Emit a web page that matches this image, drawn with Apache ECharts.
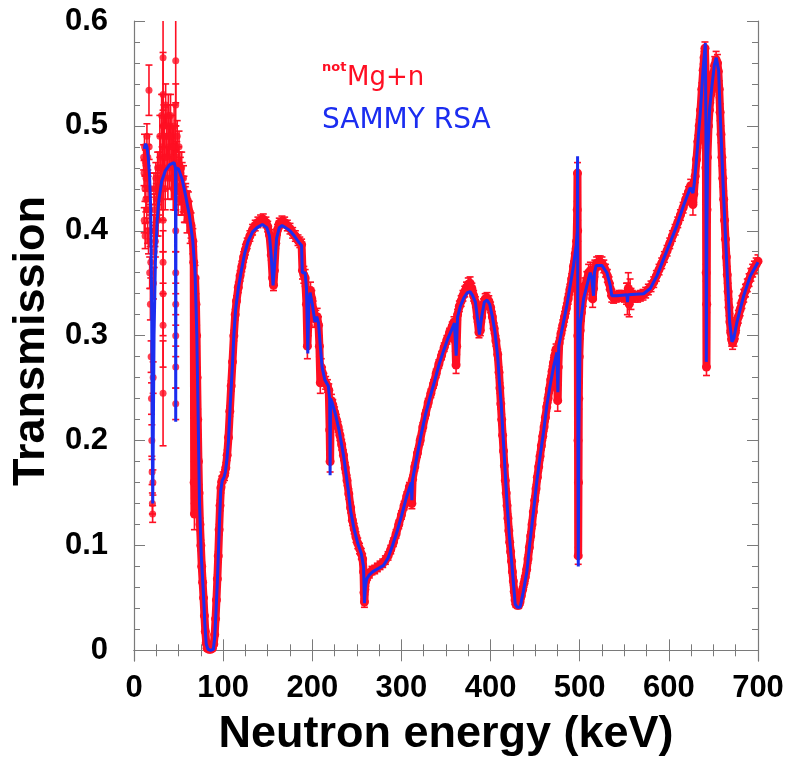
<!DOCTYPE html>
<html>
<head>
<meta charset="utf-8">
<script src="https://cdn.jsdelivr.net/npm/echarts@6/dist/echarts.min.js"></script>
<style>
  html, body { margin: 0; padding: 0; background: #fff; }
  #chart { width: 792px; height: 762px; }
</style>
</head>
<body>
<div id="chart"></div>
<script>
// tick positions
const xMin = 0, xMax = 700;
const yMin = -0.0102, yMax = 0.6;
const yMajor = [0, 0.1, 0.2, 0.3, 0.4, 0.5, 0.6];
const yMinor = [0.02, 0.04, 0.06, 0.08, 0.12, 0.14, 0.16, 0.18, 0.22, 0.24, 0.26, 0.28,
  0.32, 0.34, 0.36, 0.38, 0.42, 0.44, 0.46, 0.48, 0.52, 0.54, 0.56, 0.58];

// noisy low-energy data points [E (keV), T, dT]
const noisyLow = [
  [10.8,0.47,0.012],[11.3,0.455,0.012],[11.8,0.48,0.012],[12.3,0.44,0.012],[12.8,0.465,0.012],
  [13.3,0.43,0.012],[13.8,0.47,0.012],[14.3,0.42,0.012],[14.8,0.45,0.012],[15.3,0.40,0.012],
  [15.8,0.44,0.012],[16.3,0.39,0.012],[16.8,0.534,0.024],[17.2,0.42,0.012],[17.6,0.36,0.015],
  [18,0.40,0.015],[18.4,0.33,0.015],[18.8,0.37,0.015],[19.2,0.28,0.015],[19.6,0.24,0.015],
  [20,0.2,0.015],[20.3,0.17,0.012],[20.6,0.14,0.01],[20.9,0.13,0.008],[21.2,0.16,0.012],
  [21.5,0.26,0.015],[21.8,0.35,0.015],[22.2,0.40,0.015],[22.6,0.38,0.015],[23,0.42,0.015],
  [24,0.39,0.015],[25,0.43,0.015],[26,0.44,0.015],[27,0.41,0.015],[28,0.46,0.015],
  [29,0.49,0.02],[30,0.47,0.02],[31,0.51,0.02],[32,0.48,0.02],
  [32.6,0.565,0.05],[32.6,0.53,0.04],[32.6,0.5,0.03],[32.6,0.44,0.03],[32.6,0.41,0.03],
  [32.6,0.37,0.03],[32.6,0.34,0.04],[32.6,0.31,0.04],[32.6,0.245,0.05],
  [33.5,0.5,0.02],[34.5,0.47,0.02],[35.5,0.52,0.02],[36.5,0.49,0.02],[37.5,0.46,0.02],
  [38.5,0.51,0.02],[39.5,0.48,0.02],[40.5,0.5,0.02],[41.5,0.47,0.02],[42.5,0.49,0.02],
  [43.5,0.45,0.02],[44.5,0.48,0.02],[45.5,0.46,0.02],
  [46.8,0.562,0.04],[46.8,0.52,0.02],[46.8,0.48,0.02],[46.8,0.44,0.02],[46.8,0.40,0.02],
  [46.8,0.36,0.02],[46.8,0.33,0.02],[46.8,0.3,0.02],[46.8,0.27,0.02],[46.8,0.235,0.015],
  [48,0.47,0.015],[49,0.45,0.015],[50,0.465,0.015],[51,0.44,0.015],[52,0.455,0.015],
  [53,0.43,0.015],[54,0.45,0.015],[55,0.43,0.012],[56,0.44,0.012],[57,0.42,0.012],
  [11.5,0.41,0.012],[12.5,0.395,0.012],[13.5,0.45,0.012],[14.5,0.49,0.012],[15.5,0.47,0.012],
  [17,0.48,0.012],[18.2,0.44,0.015],[22.4,0.44,0.015],[23.5,0.40,0.015],[24.5,0.45,0.015],
  [25.5,0.41,0.015],[26.5,0.46,0.015],[27.5,0.43,0.015],[28.5,0.43,0.02],[29.5,0.45,0.02],
  [30.5,0.44,0.02],[31.5,0.46,0.02],[33,0.45,0.02],[34,0.49,0.02],[35,0.44,0.02],
  [36,0.47,0.02],[37,0.5,0.02],[38,0.45,0.02],[39,0.49,0.02],[40,0.46,0.02],[41,0.51,0.02],
  [42,0.45,0.02],[43,0.48,0.02],[44,0.44,0.02],[45,0.5,0.02],[46,0.44,0.02],[47.5,0.45,0.015],
  [48.5,0.49,0.015],[49.5,0.43,0.015],[50.5,0.48,0.015],[51.5,0.46,0.015],[52.5,0.44,0.015],
  [53.5,0.46,0.015],[54.5,0.43,0.015],[55.5,0.45,0.012],[56.5,0.42,0.012],[57.5,0.43,0.012],
  [58.5,0.42,0.012],[59.5,0.41,0.012],[61,0.425,0.012],[63,0.40,0.012]
];

// measured transmission [E (keV), T, dT]
const measured = [
  [58,0.435,0.01],[60,0.428,0.01],[62,0.418,0.01],[64,0.405,0.012],[66,0.39,0.012],[67,0.37,0.015],
  [67.5,0.16,0.02],[67.8,0.13,0.015],[68.5,0.355,0.012],[69.5,0.33,0.01],[70.2,0.30,0.01],
  [70.8,0.26,0.01],[71.5,0.22,0.01],[72.3,0.18,0.008],[73,0.15,0.008],[74,0.12,0.006],
  [75,0.10,0.005],[76,0.08,0.004],[77,0.065,0.004],[78,0.05,0.003],[79,0.033,0.003],
  [80,0.018,0.002],[81,0.007,0.002],[82,0.002,0.001],[84,0.001,0.001],[86,0.001,0.001],
  [88,0.002,0.001],[89.5,0.006,0.002],[90.5,0.015,0.002],[91.5,0.03,0.003],[92.5,0.048,0.003],
  [93.5,0.068,0.004],[94.5,0.09,0.004],[95.5,0.115,0.005],[96.5,0.138,0.005],[97.5,0.155,0.005],
  [98.5,0.161,0.005],[100,0.165,0.005],[101.5,0.167,0.005],[103,0.174,0.005],[104.5,0.186,0.005],
  [106,0.203,0.005],[107.5,0.228,0.005],[109,0.252,0.005],[110.5,0.275,0.005],[112,0.3,0.005],
  [113.5,0.32,0.005],[115,0.333,0.005],[117,0.346,0.005],[119,0.357,0.005],[121,0.366,0.005],
  [123,0.375,0.005],[125,0.382,0.005],[127,0.388,0.005],[130,0.395,0.005],[133,0.401,0.005],
  [136,0.405,0.005],[139,0.408,0.005],[142,0.41,0.005],[145,0.411,0.005],[148,0.408,0.005],
  [150,0.404,0.005],[152,0.396,0.005],[154,0.377,0.005],[155.5,0.355,0.005],[156.5,0.348,0.005],
  [157.5,0.362,0.005],[159,0.388,0.005],[161,0.401,0.005],[163,0.407,0.005],[166,0.409,0.005],
  [169,0.408,0.005],[172,0.405,0.005],[175,0.402,0.005],[178,0.398,0.005],[181,0.395,0.005],
  [184,0.391,0.005],[186,0.389,0.005],[188,0.387,0.005],[189,0.362,0.008],[190.5,0.358,0.008],
  [192,0.355,0.008],[193.5,0.33,0.01],[194.5,0.29,0.012],[195.5,0.31,0.01],[196.5,0.338,0.008],
  [198,0.343,0.008],[199.5,0.335,0.008],[201,0.325,0.008],[202.5,0.316,0.008],[204,0.316,0.008],
  [205.5,0.318,0.008],[207,0.31,0.008],[208,0.29,0.01],[209,0.255,0.01],[210,0.27,0.008],
  [211.5,0.264,0.006],[213,0.258,0.006],[215,0.255,0.006],[217,0.252,0.006],[218.5,0.248,0.006],
  [219.5,0.21,0.01],[220,0.18,0.01],[220.5,0.22,0.01],[221.5,0.238,0.006],[223,0.234,0.005],
  [225,0.227,0.005],[227,0.22,0.005],[229,0.213,0.005],[231,0.205,0.005],[233,0.196,0.005],
  [235,0.186,0.005],[237,0.174,0.005],[239,0.162,0.005],[241,0.149,0.005],[243,0.136,0.005],
  [245,0.124,0.005],[247,0.116,0.005],[249,0.108,0.005],[251,0.102,0.005],[253,0.097,0.005],
  [255,0.092,0.005],[256.5,0.087,0.005],[257.5,0.075,0.006],[258,0.055,0.006],[258.5,0.046,0.005],
  [259,0.058,0.005],[260,0.066,0.005],[262,0.071,0.004],[264,0.073,0.004],[267,0.076,0.004],
  [270,0.077,0.004],[273,0.079,0.004],[276,0.081,0.004],[279,0.083,0.004],[282,0.086,0.004],
  [285,0.09,0.004],[288,0.096,0.004],[291,0.103,0.004],[294,0.111,0.004],[297,0.12,0.004],
  [300,0.129,0.004],[303,0.138,0.004],[306,0.147,0.004],[309,0.156,0.004],[311,0.158,0.004],
  [311.7,0.14,0.005],[312.5,0.163,0.004],[315,0.175,0.004],[318,0.188,0.004],[321,0.2,0.004],
  [324,0.213,0.004],[327,0.225,0.004],[330,0.236,0.004],[333,0.245,0.004],[336,0.254,0.004],
  [339,0.264,0.004],[342,0.273,0.004],[345,0.281,0.004],[348,0.289,0.004],[351,0.296,0.004],
  [354,0.303,0.004],[357,0.309,0.004],[359,0.313,0.005],[360.5,0.295,0.01],[361.3,0.272,0.008],
  [362,0.29,0.008],[363,0.32,0.005],[365,0.328,0.005],[367,0.333,0.005],[369,0.338,0.005],
  [371,0.342,0.005],[373,0.346,0.005],[375,0.349,0.006],[377,0.35,0.006],[379,0.345,0.005],
  [381,0.338,0.005],[383,0.332,0.005],[385,0.318,0.005],[387,0.303,0.005],[388.5,0.305,0.005],
  [390,0.318,0.005],[392,0.33,0.005],[394,0.335,0.005],[396,0.336,0.005],[398,0.333,0.005],
  [400,0.327,0.005],[402,0.318,0.005],[404,0.307,0.005],[406,0.295,0.005],[408,0.282,0.005],
  [409.5,0.265,0.005],[410.5,0.25,0.005],[411.5,0.235,0.005],[412.5,0.22,0.005],[413.5,0.205,0.004],
  [414.5,0.19,0.004],[415.5,0.176,0.004],[416.5,0.162,0.004],[417.5,0.15,0.004],[418.5,0.138,0.004],
  [419.5,0.126,0.004],[420.5,0.114,0.004],[421.5,0.103,0.004],[422.5,0.094,0.004],[423.5,0.085,0.004],
  [424.5,0.075,0.004],[425.5,0.066,0.004],[426.5,0.056,0.004],[427.5,0.048,0.004],[428.5,0.044,0.003],
  [430,0.043,0.003],[431.5,0.043,0.003],[433,0.046,0.003],[434.5,0.052,0.003],[436,0.058,0.003],
  [437.5,0.064,0.004],[439,0.07,0.004],[440.5,0.077,0.004],[442,0.087,0.004],[443.5,0.098,0.004],
  [445,0.109,0.004],[446.5,0.12,0.004],[448,0.132,0.004],[449.5,0.143,0.004],[451,0.154,0.004],
  [452.5,0.165,0.004],[454,0.175,0.004],[455.5,0.185,0.004],[457,0.195,0.004],[458.5,0.204,0.004],
  [460,0.213,0.004],[461.5,0.222,0.004],[463,0.232,0.004],[464.5,0.24,0.004],[466,0.249,0.004],
  [467.5,0.258,0.004],[469,0.266,0.005],[470.5,0.274,0.005],[472,0.281,0.005],[473.5,0.287,0.005],
  [474.5,0.262,0.012],[475.3,0.238,0.01],[476,0.27,0.01],[477,0.293,0.005],[479,0.302,0.005],
  [481,0.31,0.005],[483,0.318,0.005],[485,0.326,0.005],[487,0.335,0.005],[489,0.344,0.005],
  [491,0.354,0.005],[493,0.366,0.005],[495,0.378,0.005],[496.5,0.39,0.006],[497.2,0.42,0.008],
  [497.5,0.455,0.01],[497.7,0.4,0.01],[497.9,0.3,0.01],[498.1,0.2,0.01],[498.3,0.09,0.008],
  [498.6,0.16,0.01],[499,0.24,0.01],[499.5,0.28,0.01],[500.5,0.305,0.008],[502,0.322,0.008],
  [504,0.336,0.008],[506,0.347,0.008],[508,0.353,0.008],[510,0.36,0.008],[512,0.362,0.008],
  [513.5,0.352,0.008],[514.5,0.335,0.008],[515.5,0.345,0.008],[517,0.364,0.008],[519,0.369,0.006],
  [521,0.37,0.006],[523,0.37,0.006],[525,0.369,0.006],[527,0.366,0.006],[529,0.362,0.006],
  [531,0.357,0.006],[533,0.35,0.006],[534.5,0.344,0.006],[536,0.338,0.006],[538,0.336,0.005],
  [541,0.337,0.005],[544,0.338,0.005],[547,0.338,0.005],[550,0.337,0.005],[552.5,0.34,0.01],
  [553.5,0.335,0.015],[554.5,0.345,0.015],[555.5,0.33,0.012],[556.5,0.342,0.012],[557.5,0.335,0.01],
  [559,0.338,0.005],[562,0.337,0.005],[565,0.337,0.005],[568,0.338,0.005],[571,0.339,0.005],
  [574,0.341,0.005],[577,0.344,0.005],[580,0.347,0.005],[583,0.351,0.005],[586,0.357,0.005],
  [589,0.363,0.005],[592,0.369,0.005],[595,0.375,0.005],[598,0.381,0.005],[601,0.388,0.005],
  [604,0.395,0.005],[607,0.401,0.005],[610,0.408,0.005],[613,0.415,0.005],[616,0.422,0.005],
  [619,0.43,0.005],[622,0.437,0.005],[624.5,0.443,0.006],[626,0.435,0.01],[627,0.425,0.01],
  [628,0.435,0.008],[629.5,0.452,0.006],[631,0.468,0.006],[632.5,0.485,0.006],[634,0.5,0.006],
  [635.5,0.515,0.006],[637,0.535,0.006],[638.5,0.553,0.006],[639.5,0.565,0.006],[640.5,0.574,0.006],
  [641.2,0.55,0.008],[641.6,0.46,0.008],[641.9,0.36,0.008],[642.2,0.27,0.008],[642.5,0.33,0.008],
  [642.8,0.42,0.008],[643.3,0.47,0.008],[644.5,0.5,0.008],[645.5,0.515,0.008],[647,0.53,0.008],
  [648.5,0.54,0.008],[650,0.549,0.008],[651.5,0.558,0.008],[653,0.563,0.008],[654.5,0.56,0.008],
  [655.5,0.552,0.008],[656.5,0.535,0.008],[657.5,0.513,0.008],[658.5,0.492,0.008],[659.5,0.47,0.008],
  [660.5,0.45,0.008],[661.5,0.43,0.008],[662.5,0.41,0.008],[663.5,0.392,0.008],[664.5,0.375,0.008],
  [665.5,0.358,0.008],[666.5,0.342,0.008],[667.5,0.327,0.008],[668.5,0.313,0.008],[669.5,0.303,0.006],
  [670.5,0.296,0.006],[671.5,0.293,0.006],[673,0.296,0.006],[674.5,0.303,0.006],[676,0.311,0.006],
  [678,0.318,0.006],[680,0.325,0.006],[682,0.332,0.006],[684,0.338,0.006],[686,0.343,0.006],
  [688,0.348,0.006],[690,0.353,0.006],[692,0.358,0.006],[694,0.362,0.006],[696,0.365,0.006],
  [698,0.368,0.006],[700,0.371,0.006]
];

// SAMMY RSA fit [E (keV), T]
const sammyFit = [
  [11.5,0.478],[13,0.483],[14.5,0.480],[16,0.470],[17.5,0.452],[18.8,0.42],[19.8,0.33],[20.5,0.20],
  [21,0.14],[21.6,0.20],[22.5,0.30],[24,0.37],[26,0.41],[28,0.43],[31,0.447],[35,0.457],[40,0.463],
  [45,0.465],[46.5,0.46],[46.8,0.218],[47.1,0.46],[50,0.459],[54,0.449],[58,0.433],[62,0.415],
  [66,0.39],[68.5,0.36],[70.5,0.30],[72,0.22],[73.5,0.14],[75.5,0.09],[77.8,0.055],[79.5,0.025],
  [81,0.006],[83,0.001],[86,0.0],[89,0.001],[90.5,0.012],[92,0.037],[93.5,0.065],[94.7,0.094],
  [96,0.125],[97.3,0.152],[99,0.162],[101,0.165],[102.5,0.17],[104,0.18],[106,0.2],[108,0.235],
  [110,0.265],[112,0.30],[114,0.325],[117,0.345],[120,0.36],[124,0.378],[128,0.39],[133,0.399],
  [138,0.403],[144,0.406],[149,0.403],[152,0.395],[154,0.375],[156,0.348],[158,0.37],[160,0.393],
  [163,0.403],[166,0.405],[170,0.403],[175,0.4],[179,0.396],[184,0.39],[188,0.386],[188.8,0.36],
  [192,0.36],[193.5,0.345],[195,0.283],[196,0.33],[197.5,0.341],[200,0.33],[203,0.313],[205,0.318],
  [207,0.312],[209,0.29],[211,0.27],[214,0.258],[218,0.252],[219.5,0.24],[220,0.167],[220.5,0.24],
  [222,0.237],[226,0.225],[230,0.21],[235,0.186],[240,0.155],[243,0.133],[247,0.115],[251,0.102],
  [255,0.092],[257.5,0.08],[258.5,0.045],[259.5,0.06],[261,0.068],[264,0.072],[268,0.075],
  [274,0.078],[280,0.081],[285,0.088],[290,0.1],[295,0.113],[300,0.128],[305,0.144],[311,0.160],
  [311.7,0.143],[312.4,0.162],[317,0.183],[322,0.205],[327,0.225],[332,0.241],[337,0.256],
  [342,0.272],[347,0.285],[352,0.297],[357,0.307],[359.5,0.312],[361.4,0.281],[363,0.318],
  [366,0.328],[370,0.336],[374,0.341],[377,0.342],[380,0.338],[383,0.332],[385.5,0.315],
  [387.5,0.301],[390,0.318],[393,0.332],[396,0.334],[399,0.33],[402,0.318],[405,0.303],[408,0.28],
  [410,0.255],[412,0.234],[415,0.19],[418.3,0.142],[421,0.11],[423.9,0.082],[427.6,0.044],
  [430,0.041],[433.2,0.041],[436.5,0.055],[440.7,0.075],[444,0.102],[448.1,0.132],[452,0.162],
  [455.7,0.186],[459.4,0.208],[463.2,0.234],[466.9,0.253],[470.6,0.27],[474.4,0.284],[475.5,0.246],
  [476.5,0.29],[478.1,0.297],[485.6,0.329],[493.1,0.367],[496.1,0.386],[497.3,0.40],[497.6,0.471],
  [498,0.20],[498.4,0.08],[499,0.2],[500.6,0.31],[504.3,0.335],[509.9,0.354],[511.8,0.36],
  [513.5,0.355],[515.5,0.338],[516.5,0.36],[518.5,0.367],[524.9,0.367],[530.5,0.36],[534.2,0.348],
  [536,0.338],[541.7,0.338],[553,0.339],[553.6,0.332],[554.2,0.339],[571.6,0.340],[579.1,0.345],
  [586.6,0.357],[594,0.373],[601.6,0.389],[609,0.405],[616.5,0.424],[624,0.441],[627,0.436],
  [628.5,0.445],[630.7,0.465],[635.2,0.512],[638.3,0.553],[640.9,0.579],[641.6,0.5],[642,0.275],
  [642.6,0.40],[643.5,0.47],[645.7,0.516],[648.3,0.538],[651,0.558],[653.2,0.565],[655.8,0.553],
  [657.7,0.509],[661.4,0.433],[665.2,0.364],[668.2,0.313],[670.8,0.294],[673,0.298],[676.4,0.313],
  [680,0.325],[683.9,0.338],[691.4,0.357],[700,0.370]
];

const RED = '#ff0f23';
const BLUE = '#1b2df0';
const FRAME = '#7a7a7a';
const labelFont = { fontFamily: 'Liberation Sans', fontWeight: 'bold', fontSize: 31, color: '#000' };

function renderErr(params, api) {
  const x = api.value(0), y = api.value(1), e = api.value(2);
  const top = api.coord([x, y + e]);
  const bot = api.coord([x, y - e]);
  const cap = 3.5;
  const st = { stroke: RED, lineWidth: 1.6 };
  return {
    type: 'group',
    children: [
      { type: 'line', shape: { x1: top[0], y1: top[1], x2: bot[0], y2: bot[1] }, style: st },
      { type: 'line', shape: { x1: top[0] - cap, y1: top[1], x2: top[0] + cap, y2: top[1] }, style: st },
      { type: 'line', shape: { x1: bot[0] - cap, y1: bot[1], x2: bot[0] + cap, y2: bot[1] }, style: st }
    ]
  };
}

const chart = echarts.init(document.getElementById('chart'), null, { renderer: 'canvas' });

const yBase = { type: 'value', min: yMin, max: yMax, splitLine: { show: false } };

chart.setOption({
  backgroundColor: '#fff',
  animation: false,
  grid: { left: 134, right: 34, top: 21, bottom: 98 },
  xAxis: [
    {
      type: 'value', min: xMin, max: xMax, interval: 100, position: 'bottom',
      name: 'Neutron energy (keV)', nameLocation: 'middle', nameGap: 51,
      nameTextStyle: { fontFamily: 'Liberation Sans', fontWeight: 'bold', fontSize: 45, color: '#000' },
      axisLine: { lineStyle: { color: FRAME, width: 1.2 } },
      axisTick: { inside: true, length: 11, lineStyle: { color: FRAME } },
      minorTick: { show: true, splitNumber: 4, length: 6, lineStyle: { color: FRAME } },
      axisLabel: Object.assign({ margin: 12 }, labelFont),
      splitLine: { show: false }
    },
    {
      type: 'value', min: xMin, max: xMax, interval: 100, position: 'top',
      axisLine: { lineStyle: { color: FRAME, width: 1.2 } },
      axisTick: { inside: true, length: 11, lineStyle: { color: FRAME } },
      minorTick: { show: true, splitNumber: 4, length: 6, lineStyle: { color: FRAME } },
      axisLabel: { show: false },
      splitLine: { show: false }
    }
  ],
  yAxis: [
    Object.assign({}, yBase, {
      position: 'left',
      name: 'Transmission', nameLocation: 'middle', nameGap: 76, nameRotate: 90,
      nameTextStyle: { fontFamily: 'Liberation Sans', fontWeight: 'bold', fontSize: 45, color: '#000' },
      axisLine: { show: true, lineStyle: { color: FRAME, width: 1.2 } },
      axisTick: { show: true, inside: true, length: 11, customValues: yMajor, lineStyle: { color: FRAME } },
      axisLabel: Object.assign({
        margin: 26, customValues: yMajor,
        formatter: v => (Math.abs(v) < 1e-9 ? '0' : v.toFixed(1))
      }, labelFont)
    }),
    Object.assign({}, yBase, {
      position: 'left',
      axisLine: { show: false },
      axisTick: { show: true, inside: true, length: 6, customValues: yMinor, lineStyle: { color: FRAME } },
      axisLabel: { show: false }
    }),
    Object.assign({}, yBase, {
      position: 'right',
      axisLine: { show: true, lineStyle: { color: FRAME, width: 1.2 } },
      axisTick: { show: true, inside: true, length: 11, customValues: yMajor, lineStyle: { color: FRAME } },
      axisLabel: { show: false }
    }),
    Object.assign({}, yBase, {
      position: 'right',
      axisLine: { show: false },
      axisTick: { show: true, inside: true, length: 6, customValues: yMinor, lineStyle: { color: FRAME } },
      axisLabel: { show: false }
    })
  ],
  series: [
    {
      name: 'errors low', type: 'custom', clip: true, z: 2,
      renderItem: renderErr, data: noisyLow, encode: { x: 0, y: 1 }
    },
    {
      name: 'points low', type: 'scatter', z: 3, symbol: 'circle', symbolSize: 7,
      itemStyle: { color: RED }, data: noisyLow.map(d => [d[0], d[1]])
    },
    {
      name: 'errors', type: 'custom', clip: true, z: 2,
      renderItem: renderErr, data: measured, encode: { x: 0, y: 1 }
    },
    {
      name: 'notMg+n', type: 'line', z: 3, symbol: 'circle', symbolSize: 9, showAllSymbol: true,
      lineStyle: { color: RED, width: 8 }, itemStyle: { color: RED },
      data: measured.map(d => [d[0], d[1]])
    },
    {
      name: 'SAMMY RSA', type: 'line', z: 5, symbol: 'none',
      lineStyle: { color: BLUE, width: 3 },
      data: sammyFit
    }
  ],
  graphic: [
    {
      type: 'text', left: 322, top: 61, z: 10,
      style: { text: 'not', fontFamily: 'DejaVu Sans', fontWeight: 'bold', fontSize: 13, fill: RED }
    },
    {
      type: 'text', left: 347, top: 65, z: 10,
      style: { text: 'Mg+n', fontFamily: 'DejaVu Sans', fontSize: 26, fill: RED }
    },
    {
      type: 'text', left: 322, top: 107, z: 10,
      style: { text: 'SAMMY RSA', fontFamily: 'DejaVu Sans', fontSize: 28, fill: BLUE }
    }
  ]
});
</script>
</body>
</html>
